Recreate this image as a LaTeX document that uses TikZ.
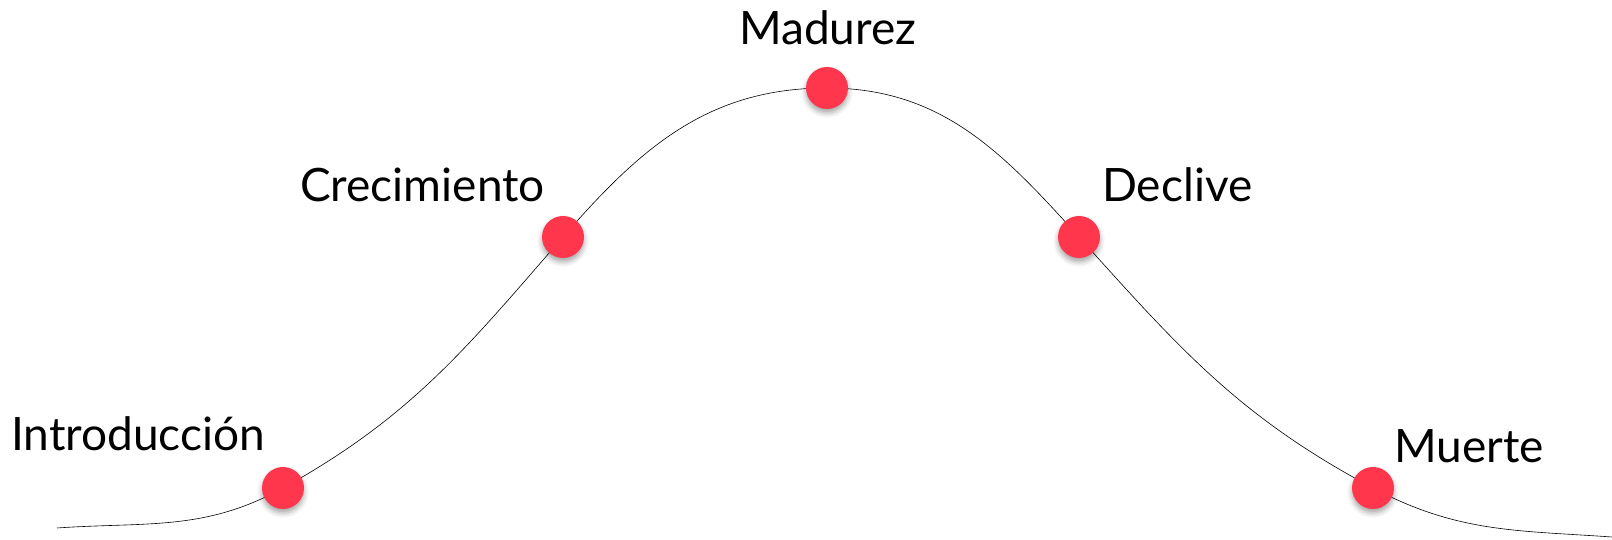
\documentclass[tikz,border=0pt]{standalone}
\usepackage{fontspec}
\setmainfont{Lato}
\usepackage{tikz}
\usetikzlibrary{shadows.blur}
\definecolor{dotred}{RGB}{255,54,76}

\begin{document}
\begin{tikzpicture}[x=1pt,y=1pt,
  stagedot/.style={circle,fill=dotred,draw=none,minimum size=42pt,inner sep=0pt,
    blur shadow={shadow xshift=0pt,shadow yshift=-4pt,shadow blur radius=5pt,shadow opacity=35}},
  stagelabel/.style={anchor=base west,inner sep=0pt,font=\fontsize{46}{55}\selectfont}]
\useasboundingbox (0,0) rectangle (1612,540);

% Points on the curve
\coordinate (start) at (57,12);
\coordinate (intro) at (283,52);
\coordinate (crec) at (563,303);
\coordinate (mad) at (827,452);
\coordinate (decl) at (1079,303);
\coordinate (muer) at (1373,52);
\coordinate (finish) at (1612,3);

% Curve
\draw [line width=0.6pt] (start) to[out=4,in=209] (intro) to[out=29,in=229] (crec)
  to[out=49,in=180] (mad) to[out=0,in=132] (decl) to[out=-48,in=152] (muer)
  to[out=-28,in=176] (finish);

% Dots
\node [stagedot] (dintro) at (intro) {};
\node [stagedot] (dcrec) at (crec) {};
\node [stagedot] (dmad) at (mad) {};
\node [stagedot] (ddecl) at (decl) {};
\node [stagedot] (dmuer) at (muer) {};

% Text Node
\node [stagelabel] (lintro) at (11,89) {Introducción};
% Text Node
\node [stagelabel] (lcrec) at (300,338) {Crecimiento};
% Text Node
\node [stagelabel] (lmad) at (739,495) {Madurez};
% Text Node
\node [stagelabel] (ldecl) at (1102,338) {Declive};
% Text Node
\node [stagelabel] (lmuer) at (1394,77) {Muerte};

\end{tikzpicture}
\end{document}
